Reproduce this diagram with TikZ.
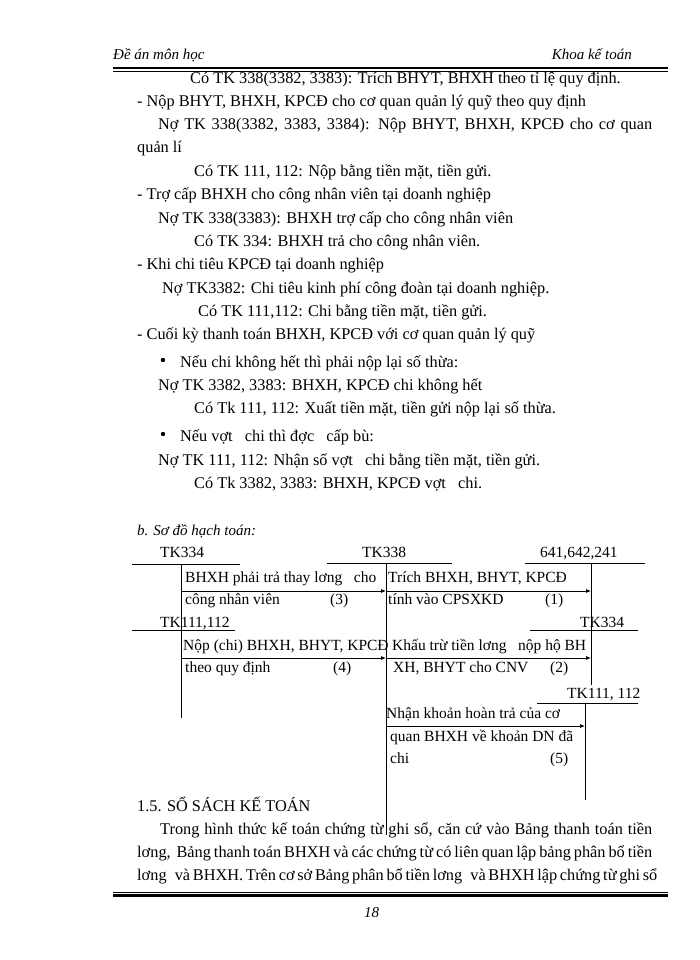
\documentclass[tikz,border=0pt]{standalone}
\usepackage{fontspec}
\setmainfont{Liberation Serif}
\usetikzlibrary{arrows.meta}
\begin{document}
\begin{tikzpicture}[x=1pt,y=-1pt,
  t/.style={anchor=base west,inner sep=0pt,font=\fontsize{15.5}{17}\selectfont},
  tb/.style={anchor=base west,inner sep=0pt,font=\fontsize{16.3}{17}\selectfont},
  ti/.style={t,font=\fontsize{15}{17}\selectfont\itshape},
  acc/.style={line width=0.8pt},
  arr/.style={line width=0.8pt,-{Latex[length=5pt,width=4pt]}}]
\useasboundingbox[fill=white] (0,0) rectangle (700,960);
\node[ti] (h1) at (113,60) {Đề án môn học};
\node[ti,anchor=base east] (h2) at (632,60) {Khoa kế toán};
\draw[line width=2.5pt] (113,68) -- (668,68);
\draw[line width=0.7pt] (113,71.5) -- (668,71.5);
\node[tb] (l1) at (190,84) {Có TK 338(3382, 3383): Trích BHYT, BHXH theo tỉ lệ quy định.};
\node[tb] (l2) at (137,107) {- Nộp BHYT, BHXH, KPCĐ cho cơ quan quản lý quỹ theo quy định};
\node[tb] (l3) at (158,130) {\makebox[494pt][s]{Nợ TK 338(3382, 3383, 3384): Nộp BHYT, BHXH, KPCĐ cho cơ quan}};
\node[tb] (l4) at (137,153) {quản lí};
\node[tb] (l5) at (194,177) {Có TK 111, 112: Nộp bằng tiền mặt, tiền gửi.};
\node[tb] (l6) at (137,200) {- Trợ cấp BHXH cho công nhân viên tại doanh nghiệp};
\node[tb] (l7) at (158,223) {Nợ TK 338(3383): BHXH trợ cấp cho công nhân viên};
\node[tb] (l8) at (194,246) {Có TK 334: BHXH trả cho công nhân viên.};
\node[tb] (l9) at (137,269) {- Khi chi tiêu KPCĐ tại doanh nghiệp};
\node[tb] (l10) at (162,293) {Nợ TK3382: Chi tiêu kinh phí công đoàn tại doanh nghiệp.};
\node[tb] (l11) at (198,316) {Có TK 111,112: Chi bằng tiền mặt, tiền gửi.};
\node[tb] (l12) at (137,339) {- Cuối kỳ thanh toán BHXH, KPCĐ với cơ quan quản lý quỹ};
\fill (163,360) circle (2.2pt);
\node[tb] (l13) at (180,367) {Nếu chi không hết thì phải nộp lại số thừa:};
\node[tb] (l14) at (158,390) {Nợ TK 3382, 3383: BHXH, KPCĐ chi không hết};
\node[tb] (l15) at (194,413) {Có Tk 111, 112: Xuất tiền mặt, tiền gửi nộp lại số thừa.};
\fill (163,434) circle (2.2pt);
\node[tb] (l16) at (180,441) {Nếu vợt\ \ \ chi thì đợc\ \ \ cấp bù:};
\node[tb] (l17) at (158,465) {Nợ TK 111, 112: Nhận số vợt\ \ \ chi bằng tiền mặt, tiền gửi.};
\node[tb] (l18) at (194,488) {Có Tk 3382, 3383: BHXH, KPCĐ vợt\ \ \ chi.};
\node[ti] (sd) at (137,535) {b. Sơ đồ hạch toán:};
% accounts
\node[t] (a1) at (160,557) {TK334};
\node[t] (a2) at (362,557) {TK338};
\node[t] (a3) at (540,557) {641,642,241};
\node[t] (a4) at (160,627) {TK111,112};
\node[t] (a5) at (580,627) {TK334};
\node[t] (a6) at (567,698) {TK111, 112};
\coordinate (v1t) at (181,564); \coordinate (v1b) at (181,718);
\coordinate (v2t) at (386,563); \coordinate (v2b) at (386,835);
\coordinate (v3t) at (591,563); \coordinate (v3b) at (591,685);
\coordinate (v4t) at (585,703); \coordinate (v4b) at (585,800);
\draw[acc] (132,564) -- (240,564);
\draw[acc] (327,563) -- (452,563);
\draw[acc] (525,563) -- (645,563);
\draw[acc] (132,630) -- (235,630);
\draw[acc] (530,630) -- (638,630);
\draw[acc] (537,703) -- (638,703);
\draw[acc] (v1t) -- (v1b);
\draw[acc] (v2t) -- (v2b);
\draw[acc] (v3t) -- (v3b);
\draw[acc] (v4t) -- (v4b);
\coordinate (p3a) at (181,591); \coordinate (p3b) at (386,591);
\coordinate (p1b) at (591,591);
\coordinate (p4a) at (181,658); \coordinate (p4b) at (386,658);
\coordinate (p2b) at (591,658);
\coordinate (p5a) at (386,726); \coordinate (p5b) at (585,726);
\draw[arr] (p3a) -- (p3b);
\draw[arr] (p3b) -- (p1b);
\draw[arr] (p4a) -- (p4b);
\draw[arr] (p4b) -- (p2b);
\draw[arr] (p5a) -- (p5b);
\node[t] (d1) at (185,582) {BHXH phải trả thay lơng\ \ \ cho};
\node[t] (d2) at (185,604) {công nhân viên};
\node[t] (d3) at (330,604) {(3)};
\node[t] (d4) at (388,582) {Trích BHXH, BHYT, KPCĐ};
\node[t] (d5) at (388,604) {tính vào CPSXKD};
\node[t] (d6) at (545,604) {(1)};
\node[t] (d7) at (183,650) {Nộp (chi) BHXH, BHYT, KPCĐ};
\node[t] (d8) at (185,672) {theo quy định};
\node[t] (d9) at (333,672) {(4)};
\node[t] (d10) at (392,650) {Khấu trừ tiền lơng\ \ \ nộp hộ BH};
\node[t] (d11) at (393,672) {XH, BHYT cho CNV};
\node[t] (d12) at (550,672) {(2)};
\node[t] (d13) at (386,718) {Nhận khoản hoàn trả của cơ};
\node[t] (d14) at (390,741) {quan BHXH về khoản DN đã};
\node[t] (d15) at (390,763) {chi};
\node[t] (d16) at (550,763) {(5)};
% section
\node[tb] (s1) at (137,811) {1.5. SỔ SÁCH KẾ TOÁN};
\node[tb] (p1) at (160,834) {\makebox[492pt][s]{Trong hình thức kế toán chứng từ ghi sổ, căn cứ vào Bảng thanh toán tiền}};
\node[tb] (p2) at (137,857) {\makebox[515pt][s]{lơng,\ \ Bảng thanh toán BHXH và các chứng từ có liên quan lập bảng phân bổ tiền}};
\node[tb] (p3) at (137,880) {\makebox[515pt][s]{lơng\ \ \ và BHXH. Trên cơ sở Bảng phân bổ tiền lơng\ \ \ và BHXH lập chứng từ ghi sổ}};
\draw[line width=0.7pt] (113,892) -- (668,892);
\draw[line width=2.5pt] (113,895.5) -- (668,895.5);
\node[ti] (pg) at (364,917) {18};
\end{tikzpicture}
\end{document}
